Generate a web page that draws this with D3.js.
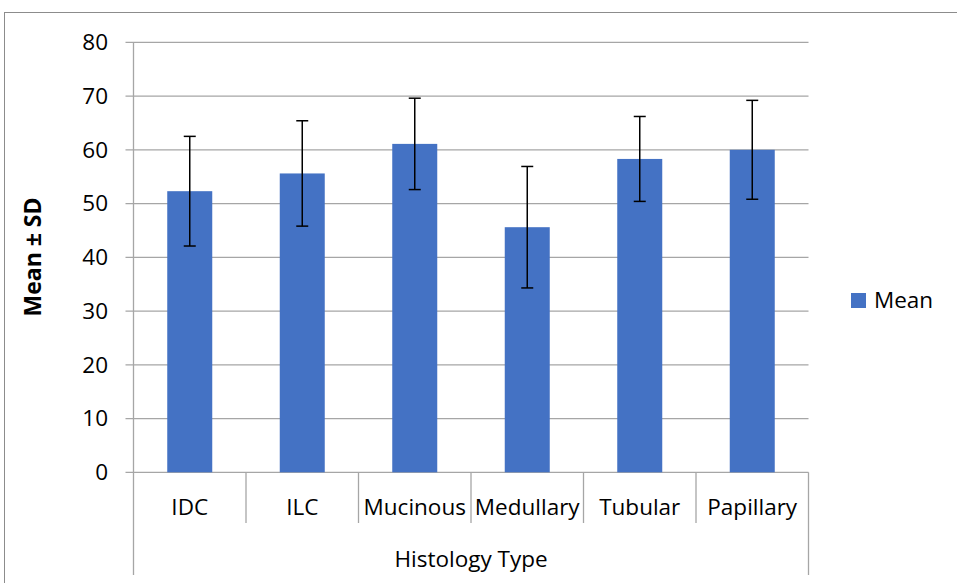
<!DOCTYPE html>
<html>
<head>
<meta charset="utf-8">
<script src="https://cdn.jsdelivr.net/npm/d3@7"></script>
<style>
  body { margin: 0; background: #fff; }
  svg text { font-family: "Open Sans", "Noto Sans", sans-serif; fill: #000; }
</style>
</head>
<body>
<svg id="chart" width="957" height="583"></svg>
<script>
// datos
const categories = ["IDC", "ILC", "Mucinous", "Medullary", "Tubular", "Papillary"];
const means = [52.3, 55.6, 61.1, 45.6, 58.3, 60.0];
const sds = [10.2, 9.8, 8.5, 11.3, 7.9, 9.2];
const yTicks = [0, 10, 20, 30, 40, 50, 60, 70, 80];

const svg = d3.select("#chart");
const plotLeft = 133.5, plotRight = 808.5, plotTop = 42.3, plotBottom = 472.3;
const gridColor = "#a6a6a6";
const fontSize = "22.5px";

// borde exterior
svg.append("rect")
    .attr("x", 4.5).attr("y", 12.5)
    .attr("width", 1000).attr("height", 1000)
    .attr("fill", "none")
    .attr("stroke", "#8c8c8c");

const x = d3.scaleBand().domain(categories).range([plotLeft, plotRight]).paddingInner(0).paddingOuter(0);
const y = d3.scaleLinear().domain([0, 80]).range([plotBottom, plotTop]);

// lineas de cuadricula
svg.append("g").selectAll("line")
    .data(yTicks)
    .enter().append("line")
    .attr("x1", plotLeft - 8).attr("x2", plotRight)
    .attr("y1", d => y(d)).attr("y2", d => y(d))
    .attr("stroke", gridColor).attr("stroke-width", 1.3);

// etiquetas eje Y
svg.append("g").selectAll("text")
    .data(yTicks)
    .enter().append("text")
    .attr("x", 108).attr("y", d => y(d))
    .attr("dy", "0.35em")
    .attr("text-anchor", "end")
    .style("font-size", fontSize)
    .text(d => d);

// eje vertical
svg.append("line")
    .attr("x1", plotLeft).attr("x2", plotLeft)
    .attr("y1", plotTop).attr("y2", 575)
    .attr("stroke", gridColor).attr("stroke-width", 1.3);

// separadores de categoria
const seps = categories.map(c => x(c) + x.bandwidth());
svg.append("g").selectAll("line")
    .data(seps)
    .enter().append("line")
    .attr("x1", d => d).attr("x2", d => d)
    .attr("y1", plotBottom)
    .attr("y2", (d, i) => i === seps.length - 1 ? 575 : 523)
    .attr("stroke", gridColor).attr("stroke-width", 1.3);

// barras
const barW = x.bandwidth() * 0.4;
svg.append("g").selectAll("rect")
    .data(categories)
    .enter().append("rect")
    .attr("x", d => x(d) + (x.bandwidth() - barW) / 2)
    .attr("y", (d, i) => y(means[i]))
    .attr("width", barW)
    .attr("height", (d, i) => y(0) - y(means[i]))
    .attr("fill", "#4472c4");

// barras de error
const err = svg.append("g").attr("stroke", "#000").attr("stroke-width", 1.5);
categories.forEach((c, i) => {
    const cx = x(c) + x.bandwidth() / 2;
    const hi = y(means[i] + sds[i]), lo = y(means[i] - sds[i]);
    err.append("line").attr("x1", cx).attr("x2", cx).attr("y1", hi).attr("y2", lo);
    err.append("line").attr("x1", cx - 6).attr("x2", cx + 6).attr("y1", hi).attr("y2", hi);
    err.append("line").attr("x1", cx - 6).attr("x2", cx + 6).attr("y1", lo).attr("y2", lo);
});

// etiquetas de categoria
svg.append("g").selectAll("text")
    .data(categories)
    .enter().append("text")
    .attr("x", d => x(d) + x.bandwidth() / 2)
    .attr("y", 507)
    .attr("dy", "0.35em")
    .attr("text-anchor", "middle")
    .style("font-size", fontSize)
    .text(d => d);

// titulo eje X
svg.append("text")
    .attr("x", (plotLeft + plotRight) / 2).attr("y", 559)
    .attr("dy", "0.35em")
    .attr("text-anchor", "middle")
    .style("font-size", fontSize)
    .text("Histology Type");

// titulo eje Y
svg.append("text")
    .attr("transform", "translate(33, 257) rotate(-90)")
    .attr("dy", "0.35em")
    .attr("text-anchor", "middle")
    .style("font-size", "23px")
    .style("font-weight", "bold")
    .text("Mean ± SD");

// leyenda
svg.append("rect")
    .attr("x", 851).attr("y", 293)
    .attr("width", 15).attr("height", 15)
    .attr("fill", "#4472c4");
svg.append("text")
    .attr("x", 874).attr("y", 300.5)
    .attr("dy", "0.35em")
    .style("font-size", fontSize)
    .text("Mean");
</script>
</body>
</html>
